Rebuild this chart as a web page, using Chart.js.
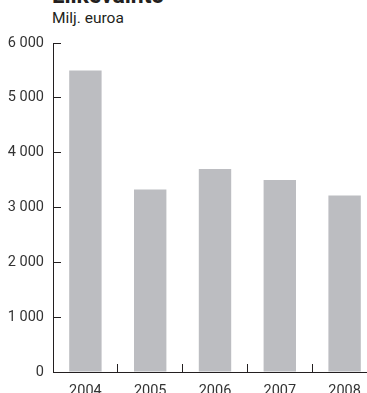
<!DOCTYPE html>
<html lang="fi">
<head>
<meta charset="utf-8">
<title>Liikevaihto</title>
<script src="https://cdn.jsdelivr.net/npm/chart.js@4.4.1/dist/chart.umd.min.js"></script>
<style>
  html, body { margin: 0; padding: 0; overflow: hidden; background: #fff; }
  body { width: 367px; height: 393px; position: relative; }
  .otsikko {
    position: absolute; left: 52px; top: -16px; margin: 0;
    font: bold 23px/23px Roboto, sans-serif; color: #231f20; white-space: nowrap;
  }
  .yksikko {
    position: absolute; left: 52px; top: 10px; margin: 0;
    font: 15.5px/17px Roboto, sans-serif; color: #231f20; white-space: nowrap;
  }
  #kaavio { position: absolute; left: 0; top: 0; }
</style>
</head>
<body>
<h2 class="otsikko">Liikevaihto</h2>
<p class="yksikko">Milj. euroa</p>
<canvas id="kaavio" width="377" height="400"></canvas>
<script>
// Liikevaihto vuosittain, milj. euroa
const vuodet = ['2004', '2005', '2006', '2007', '2008'];
const liikevaihto = [5500, 3330, 3700, 3500, 3220];
const yTickValues = [0, 1000, 2000, 3000, 4000, 5000, 6000];
const yTickLabels = ['0', '1 000', '2 000', '3 000', '4 000', '5 000', '6 000'];

const akseliVari = '#231f20';
const tekstiVari = '#333333';
const fontti = { family: 'Roboto', size: 14.5 };

new Chart(document.getElementById('kaavio'), {
    type: 'bar',
    data: {
        labels: vuodet,
        datasets: [{
            data: liikevaihto,
            backgroundColor: '#bcbdc1',
            borderWidth: 0,
            barPercentage: 0.5,
            categoryPercentage: 1
        }]
    },
    options: {
        responsive: false,
        animation: false,
        layout: { padding: { top: 43, right: 0, bottom: 0, left: 0 } },
        plugins: {
            legend: { display: false },
            tooltip: { enabled: false }
        },
        scales: {
            x: {
                grid: {
                    drawOnChartArea: false,
                    offset: true,
                    tickLength: -8, // tick marks point up into the plot
                    color: akseliVari
                },
                border: { color: akseliVari, width: 1 },
                ticks: { padding: 19, color: tekstiVari, font: fontti, maxRotation: 0 },
                afterFit: s => {
                    s.height = 28;
                    // let the plot run to the canvas edge
                    s.paddingLeft = 0;
                    s.paddingRight = 0;
                }
            },
            y: {
                min: 0,
                max: 6000,
                afterBuildTicks: s => { s.ticks = yTickValues.map(v => ({ value: v })); },
                grid: {
                    drawOnChartArea: false,
                    tickLength: -8,
                    color: akseliVari
                },
                border: { color: akseliVari, width: 1 },
                ticks: {
                    padding: 17,
                    color: tekstiVari,
                    font: fontti,
                    callback: (v, i) => yTickLabels[i]
                },
                afterFit: s => { s.width = 53; }
            }
        }
    }
});
</script>
</body>
</html>
